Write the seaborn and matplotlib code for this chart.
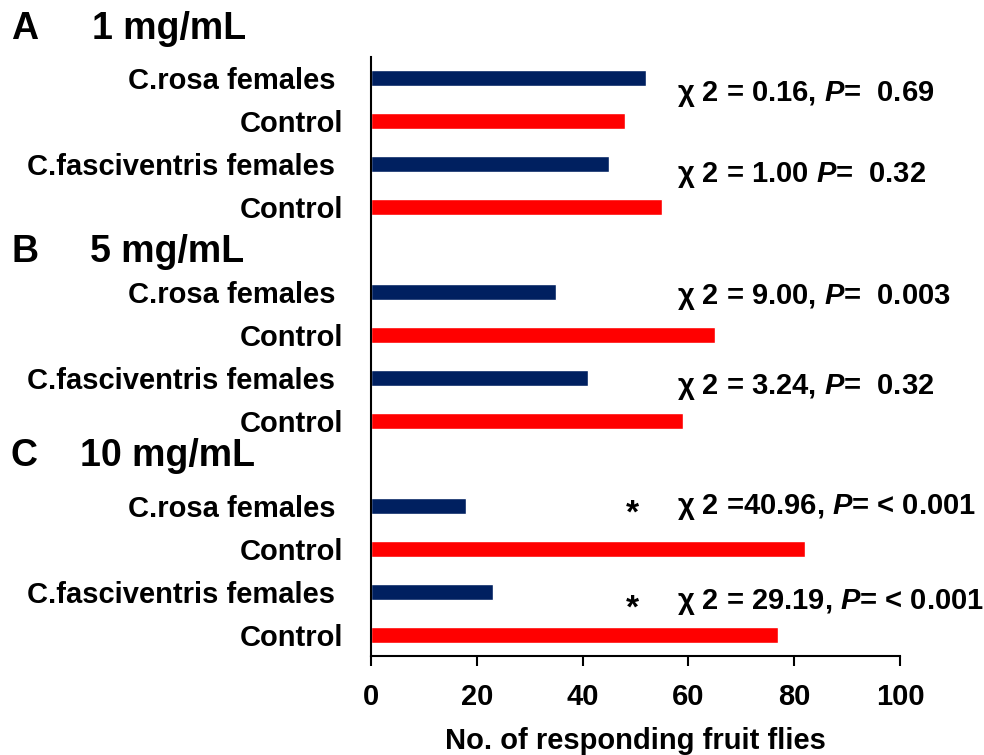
import matplotlib
matplotlib.use("Agg")
import matplotlib.pyplot as plt
import seaborn as sns
import pandas as pd

# ---- data ----
slots = ["A_rosa", "A_ctl1", "A_fasc", "A_ctl2", "gapB",
         "B_rosa", "B_ctl1", "B_fasc", "B_ctl2", "gapC",
         "C_rosa", "C_ctl1", "C_fasc", "C_ctl2"]
bar_ids = ["A_rosa", "A_ctl1", "A_fasc", "A_ctl2",
           "B_rosa", "B_ctl1", "B_fasc", "B_ctl2",
           "C_rosa", "C_ctl1", "C_fasc", "C_ctl2"]
values = [52, 48, 45, 55,
          35, 65, 41, 59,
          18, 82, 23, 77]
kinds = ["Fly", "Control", "Fly", "Control"] * 3
slot_labels = ["C.rosa females ", "Control", "C.fasciventris females ", "Control", "",
               "C.rosa females ", "Control", "C.fasciventris females ", "Control", "",
               "C.rosa females ", "Control", "C.fasciventris females ", "Control"]
group_letters = ["A", "B", "C"]
group_titles = ["1 mg/mL", "5 mg/mL", "10 mg/mL"]
stats_text = ["χ 2 = 0.16, $\\mathit{P}$=  0.69",
              "χ 2 = 1.00 $\\mathit{P}$=  0.32",
              "χ 2 = 9.00, $\\mathit{P}$=  0.003",
              "χ 2 = 3.24, $\\mathit{P}$=  0.32",
              "χ 2 =40.96, $\\mathit{P}$= < 0.001",
              "χ 2 = 29.19, $\\mathit{P}$= < 0.001"]
stats_star = ["", "", "", "", "*", "*"]
stats_row = [0.54, 2.41, 5.28, 7.37, 10.19, 12.39]
xticks = [0, 20, 40, 60, 80, 100]

df = pd.DataFrame({"slot": bar_ids, "value": values, "kind": kinds})

sns.set_theme(style="white")
plt.rcParams["font.family"] = ["Liberation Sans", "DejaVu Sans"]
plt.rcParams["font.weight"] = "bold"
plt.rcParams["text.color"] = "black"
plt.rcParams["axes.labelcolor"] = "black"
plt.rcParams["xtick.color"] = "black"
plt.rcParams["ytick.color"] = "black"
plt.rcParams["mathtext.fontset"] = "custom"
plt.rcParams["mathtext.it"] = "Liberation Sans:italic:bold"
plt.rcParams["mathtext.rm"] = "Liberation Sans:bold"

FS = 21

fig = plt.figure(figsize=(9.84, 7.55), dpi=100)
ax = fig.add_axes([371 / 984, 1 - 656 / 755, (900 - 371) / 984, (656 - 57) / 755])

sns.barplot(data=df, y="slot", x="value", hue="kind", order=slots,
            palette={"Fly": "#002060", "Control": "#FF0000"},
            dodge=False, width=0.375, orient="h", ax=ax, legend=False,
            saturation=1)

ax.set_xlim(0, 100)
ax.set_ylim(13.5, -0.5)
ax.set_xticks(xticks)
ax.set_xticklabels([str(t) for t in xticks], fontsize=FS, fontweight="bold")
ax.set_yticks(range(len(slots)))
ax.set_yticklabels(slot_labels, fontsize=FS, fontweight="bold")
ax.tick_params(axis="y", length=0, pad=20)
ax.tick_params(axis="x", direction="out", length=7.2, width=1.5, color="black",
               pad=12, bottom=True)
ax.set_ylabel("")
ax.set_xlabel("No. of responding fruit flies", fontsize=FS, fontweight="bold",
              labelpad=12)
for s in ["top", "right"]:
    ax.spines[s].set_visible(False)
for s in ["left", "bottom"]:
    ax.spines[s].set_color("black")
    ax.spines[s].set_linewidth(1.5)

for txt, star, row in zip(stats_text, stats_star, stats_row):
    ax.text(57.8, row, txt, fontsize=FS, fontweight="bold", va="baseline",
            ha="left", color="black")
    if star:
        ax.text(49.4, row + 0.2, star, fontsize=FS + 3, fontweight="bold",
                va="baseline", ha="center", color="black")

header_base = [39, 262, 466]
title_x = [92, 90, 80]
for letter, title, yy, tx in zip(group_letters, group_titles, header_base, title_x):
    fig.text(11 / 984, 1 - yy / 755, letter, fontsize=27, fontweight="bold",
             va="baseline", ha="left")
    fig.text(tx / 984, 1 - yy / 755, title, fontsize=27, fontweight="bold",
             va="baseline", ha="left")

fig.savefig("out.png", dpi=100)
